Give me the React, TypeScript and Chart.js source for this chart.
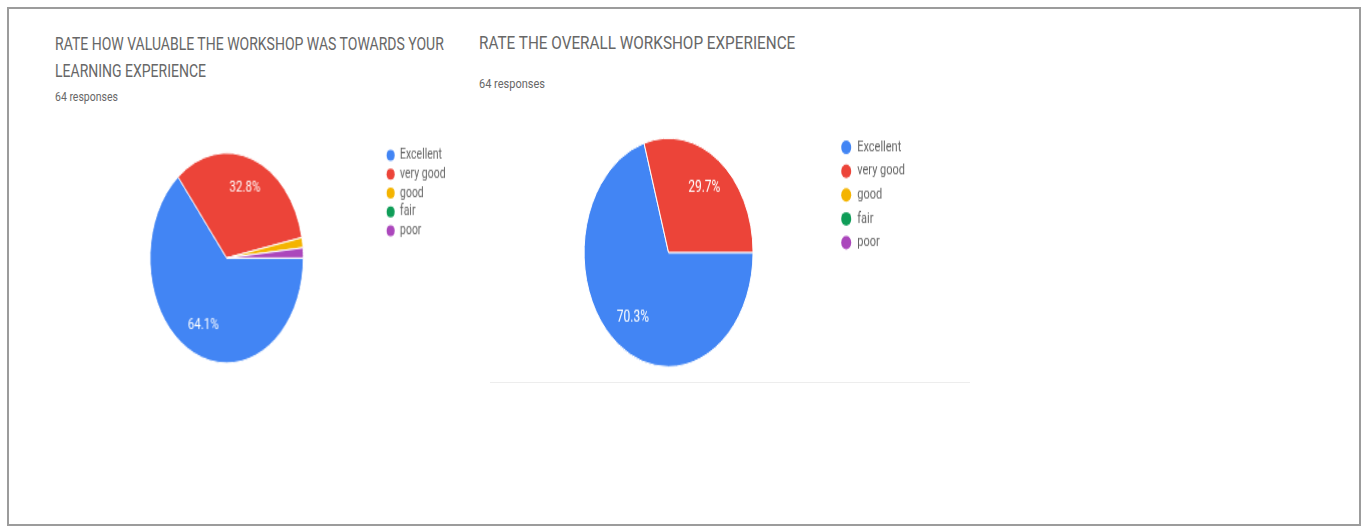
import React, { useEffect, useRef } from "react";
import { Chart, registerables } from "chart.js";
Chart.register(...registerables);

// ---------- data ----------
const categories = ["Excellent", "very good", "good", "fair", "poor"];
const sliceColors = ["#4285f4", "#ec4439", "#f4b400", "#0f9d58", "#ab47bc"];
const valuableCounts = [41, 21, 1, 0, 1];
const overallCounts = [45, 19, 0, 0, 0];
const valuableTitle = ["RATE HOW VALUABLE THE WORKSHOP WAS TOWARDS YOUR", "LEARNING EXPERIENCE"];
const overallTitle = ["RATE THE OVERALL WORKSHOP EXPERIENCE"];
const valuableResponses = "64 responses";
const overallResponses = "64 responses";

const FONT = "Roboto, 'Noto Sans', Arial, sans-serif";

const pctLabelPlugin = {
  id: "pctLabels",
  afterDatasetsDraw(chart: any, _args: any, opts: any) {
    const ctx = chart.ctx;
    const meta = chart.getDatasetMeta(0);
    const data = chart.data.datasets[0].data as number[];
    const total = data.reduce((a: number, b: number) => a + b, 0);
    ctx.save();
    ctx.fillStyle = "#ffffff";
    ctx.font = `${opts.size || 12}px ${FONT}`;
    ctx.textAlign = "center";
    ctx.textBaseline = "middle";
    meta.data.forEach((arc: any, i: number) => {
      const v = data[i];
      if (!total || v / total < 0.05) return;
      const p = arc.getProps(["x", "y", "startAngle", "endAngle", "outerRadius"], true);
      const mid = (p.startAngle + p.endAngle) / 2;
      const d = p.outerRadius * (opts.dist || 0.72);
      ctx.fillText(((v / total) * 100).toFixed(1) + "%", p.x + Math.cos(mid) * d, p.y + Math.sin(mid) * d);
    });
    ctx.restore();
  },
};

type PieProps = {
  counts: number[];
  left: number;
  cy: number;
  width: number;
  height: number;
  scaleY: number;
  radius: number;
  fontSize: number;
  pad: number;
  boxWidth: number;
  boxHeight: number;
  labelSize: number;
};

function PieChart(p: PieProps) {
  const ref = useRef<HTMLCanvasElement | null>(null);
  useEffect(() => {
    if (!ref.current) return;
    const chart = new Chart(ref.current, {
      type: "pie",
      data: {
        labels: categories,
        datasets: [
          {
            data: p.counts,
            backgroundColor: sliceColors,
            borderColor: "#ffffff",
            borderWidth: 1,
          },
        ],
      },
      options: {
        animation: false,
        responsive: true,
        maintainAspectRatio: false,
        rotation: 90,
        radius: p.radius,
        layout: { padding: 0 },
        plugins: {
          tooltip: { enabled: false },
          legend: {
            display: true,
            position: "right",
            align: "start",
            labels: {
              usePointStyle: true,
              pointStyle: "circle",
              boxWidth: p.boxWidth,
              boxHeight: p.boxHeight,
              padding: p.pad,
              color: "#666666",
              font: { size: p.fontSize, family: FONT },
              generateLabels: (chart: any) => {
                const items = Chart.overrides.pie.plugins.legend.labels.generateLabels(chart);
                return items.map((it: any) => ({ ...it, lineWidth: 0, strokeStyle: it.fillStyle }));
              },
            },
          },
          pctLabels: { size: p.labelSize, dist: 0.71 },
        } as any,
      },
      plugins: [pctLabelPlugin],
    });
    return () => chart.destroy();
  }, []);
  return (
    <div
      style={{
        position: "absolute",
        left: p.left,
        top: p.cy - p.height / 2,
        width: p.width,
        height: p.height,
        transform: `scaleY(${p.scaleY})`,
        transformOrigin: "50% 50%",
      }}
    >
      <canvas ref={ref} style={{ display: "block" }} />
    </div>
  );
}

function Txt(props: { text: string; x: number; cy: number; size: number; sy: number; color?: string }) {
  return (
    <div
      style={{
        position: "absolute",
        left: props.x,
        top: props.cy - props.size / 2,
        height: props.size,
        lineHeight: `${props.size}px`,
        fontSize: props.size,
        fontFamily: FONT,
        color: props.color || "#676767",
        whiteSpace: "nowrap",
        transform: `scaleY(${props.sy})`,
        transformOrigin: "0 50%",
      }}
    >
      {props.text}
    </div>
  );
}

export default function App() {
  return (
    <div style={{ position: "absolute", left: 0, top: 0, width: 1369, height: 530, background: "#fff", overflow: "hidden" }}>
      <div
        style={{
          position: "absolute",
          left: 7,
          top: 7,
          width: 1350,
          height: 515,
          border: "2px solid #9c9c9c",
        }}
      />
      <Txt text={valuableTitle[0]} x={55} cy={43.5} size={14} sy={1.25} />
      <Txt text={valuableTitle[1]} x={55} cy={71} size={14} sy={1.25} />
      <Txt text={valuableResponses} x={55} cy={97.5} size={10.5} sy={1.2} />
      <Txt text={overallTitle[0]} x={479} cy={44} size={15.3} sy={1.18} />
      <Txt text={overallResponses} x={479} cy={83} size={11} sy={1.2} />
      <div style={{ position: "absolute", left: 490, top: 382, width: 480, height: 1, background: "#ededed" }} />
      <PieChart
        counts={valuableCounts}
        left={70.3}
        cy={257.5}
        width={384.6}
        height={166.7}
        scaleY={1.365}
        radius={76.5}
        fontSize={10.5}
        pad={3.26}
        boxWidth={8}
        boxHeight={5.66}
        labelSize={11.5}
      />
      <PieChart
        counts={overallCounts}
        left={503}
        cy={251.5}
        width={412}
        height={179.6}
        scaleY={1.345}
        radius={84.5}
        fontSize={11}
        pad={6.6}
        boxWidth={13}
        boxHeight={7.07}
        labelSize={12}
      />
    </div>
  );
}
